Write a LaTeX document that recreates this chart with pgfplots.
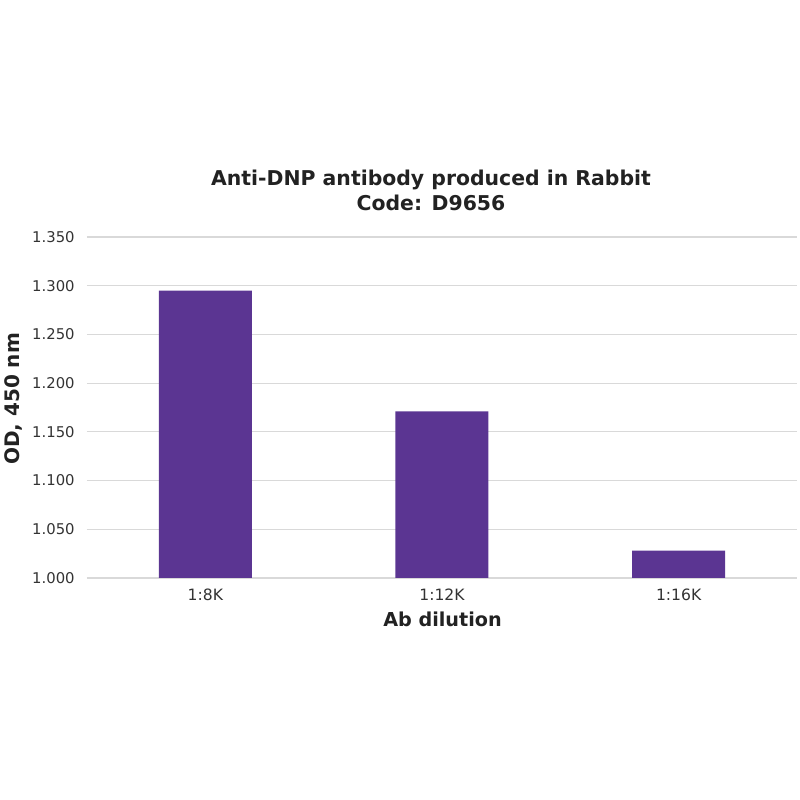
\documentclass[border=0pt]{standalone}
\usepackage{fontspec}
\setmainfont{DejaVu Sans}
\usepackage{pgfplots}
\pgfplotsset{compat=1.18}
\definecolor{barc}{HTML}{5B3592}
\definecolor{gridc}{HTML}{D9D9D9}
\definecolor{txt}{HTML}{333333}
\definecolor{ttl}{HTML}{222222}
\begin{document}
\begin{tikzpicture}
\path[use as bounding box] (0,0) rectangle (400pt,400pt);
\begin{axis}[at={(43.5pt,111pt)}, anchor=south west,
  width=355pt, height=170.5pt, scale only axis,
  xmin=-0.5, xmax=2.5, ymin=1, ymax=1.35,
  ytick={1.000,1.050,1.100,1.150,1.200,1.250,1.300,1.350},
  yticklabel style={/pgf/number format/fixed, /pgf/number format/fixed zerofill, /pgf/number format/precision=3},
  xtick={0,1,2}, xticklabels={1:8K,1:12K,1:16K},
  axis line style={draw=none}, major tick length=0pt,
  ymajorgrids, grid style={gridc, line width=0.6pt},
  ticklabel style={text=txt, inner sep=0pt},
  yticklabel style={font=\fontsize{7.4}{9}\selectfont, xshift=-6pt},
  xticklabel style={font=\fontsize{7.8}{9}\selectfont, anchor=north, yshift=-5.5pt},
  /pgf/number format/assume math mode=true,
  ybar, bar width=46.5pt,
]
\addplot[fill=barc, draw=none, bar shift=0pt] coordinates {(0,1.295) (1,1.171) (2,1.028)};
\end{axis}
\node[anchor=base, font=\bfseries\fontsize{10.2}{12}\selectfont, text=ttl] at (215.5pt,307pt) {Anti-DNP antibody produced in Rabbit};
\node[anchor=base, font=\bfseries\fontsize{10.2}{12}\selectfont, text=ttl] at (215.5pt,294.7pt) {Code: D9656};
\node[anchor=base, font=\bfseries\fontsize{9.6}{12}\selectfont, text=ttl] at (221.25pt,86.5pt) {Ab dilution};
\node[anchor=base, rotate=90, font=\bfseries\fontsize{10}{12}\selectfont, text=ttl] at (9.5pt,200.5pt) {OD, 450 nm};
\end{tikzpicture}
\end{document}
